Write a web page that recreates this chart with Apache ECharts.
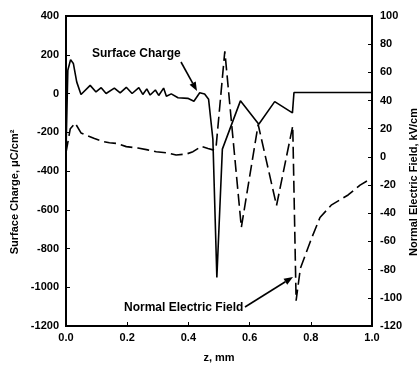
<!DOCTYPE html>
<html>
<head>
<meta charset="utf-8">
<script src="https://cdn.jsdelivr.net/npm/echarts@6/dist/echarts.min.js"></script>
<style>
  html, body { margin: 0; padding: 0; background: #fff; }
  #chart { width: 420px; height: 368px; }
</style>
</head>
<body>
<div id="chart"></div>
<script>
// surface charge (solid), uC/cm2, left axis
const zCharge = [0, 0.006, 0.015, 0.024, 0.035, 0.049, 0.079, 0.098, 0.115, 0.131, 0.158, 0.177, 0.197, 0.216, 0.238, 0.251, 0.264, 0.275, 0.292, 0.303, 0.319, 0.328, 0.344, 0.366, 0.398, 0.418, 0.437, 0.453, 0.466, 0.48, 0.493, 0.511, 0.57, 0.63, 0.682, 0.74, 0.745, 1.0];
const surfaceCharge = [-300, 120, 175, 155, 60, -5, 42, 8, 30, 0, 28, 3, 32, 0, 30, -5, 24, -8, 18, -10, 28, -14, -2, -22, -25, -40, 4, -3, -30, -236, -950, -287, -38, -159, -42, -100, 5, 5];

// normal electric field (dashed), kV/cm, right axis
const zField = [0, 0.014, 0.03, 0.049, 0.065, 0.093, 0.12, 0.142, 0.169, 0.197, 0.235, 0.267, 0.295, 0.333, 0.36, 0.393, 0.415, 0.442, 0.464, 0.48, 0.49, 0.519, 0.573, 0.628, 0.688, 0.741, 0.752, 0.766, 0.802, 0.83, 0.868, 0.922, 0.961, 1.0];
const normalField = [3, 20, 24, 17, 15.5, 13, 11, 10, 9.5, 7.3, 6.3, 5, 3.7, 2.8, 1.4, 2, 3.7, 7.5, 6, 5, 6, 75, -50, 23, -34.5, 22, -102, -79, -58, -43, -34, -27, -20, -15];

const chargeTicks = { min: -1200, max: 400, step: 200 };
const fieldTicks = { min: -120, max: 100, step: 20 };
const zTicks = { min: 0, max: 1, step: 0.2 };

const font = 'Liberation Sans, Arial, sans-serif';
const labelStyle = { color: '#000', fontFamily: font, fontWeight: 'bold', fontSize: 11 };

const myChart = echarts.init(document.getElementById('chart'));

// small arrow helper for the two annotations
const arrow = (x1, y1, x2, y2) => {
  const a = Math.atan2(y2 - y1, x2 - x1);
  const len = 9, w = 3.5;
  const bx = x2 - len * Math.cos(a), by = y2 - len * Math.sin(a);
  return [
    { type: 'line', shape: { x1: x1, y1: y1, x2: bx, y2: by }, style: { stroke: '#000', lineWidth: 1.6 } },
    {
      type: 'polygon',
      shape: { points: [[x2, y2], [bx + w * Math.sin(a), by - w * Math.cos(a)], [bx - w * Math.sin(a), by + w * Math.cos(a)]] },
      style: { fill: '#000' }
    }
  ];
};

const option = {
  backgroundColor: '#fff',
  animation: false,
  grid: { left: 66, right: 48, top: 16, bottom: 40, show: true, borderColor: '#000', borderWidth: 2 },
  xAxis: {
    type: 'value',
    min: zTicks.min, max: zTicks.max, interval: zTicks.step,
    name: 'z, mm', nameLocation: 'middle', nameGap: 26,
    nameTextStyle: labelStyle,
    axisLine: { onZero: false, lineStyle: { color: '#000', width: 2 } },
    axisTick: { inside: true, length: 4, lineStyle: { color: '#000' } },
    axisLabel: Object.assign({ margin: 6, formatter: v => v.toFixed(1) }, labelStyle),
    splitLine: { show: false }
  },
  yAxis: [
    {
      type: 'value',
      min: chargeTicks.min, max: chargeTicks.max, interval: chargeTicks.step,
      axisLine: { show: true, onZero: false, lineStyle: { color: '#000', width: 2 } },
      axisTick: { show: true, inside: true, length: 4, lineStyle: { color: '#000' } },
      axisLabel: Object.assign({ margin: 7, formatter: v => String(v) }, labelStyle),
      splitLine: { show: false }
    },
    {
      type: 'value',
      min: fieldTicks.min, max: fieldTicks.max, interval: fieldTicks.step,
      position: 'right',
      axisLine: { show: true, onZero: false, lineStyle: { color: '#000', width: 2 } },
      axisTick: { show: true, inside: true, length: 4, lineStyle: { color: '#000' } },
      axisLabel: Object.assign({ margin: 8, formatter: v => String(v) }, labelStyle),
      splitLine: { show: false }
    }
  ],
  series: [
    {
      name: 'Surface Charge',
      type: 'line',
      yAxisIndex: 0,
      data: zCharge.map((z, i) => [z, surfaceCharge[i]]),
      showSymbol: false,
      lineStyle: { color: '#000', width: 1.6 }
    },
    {
      name: 'Normal Electric Field',
      type: 'line',
      yAxisIndex: 1,
      data: zField.map((z, i) => [z, normalField[i]]),
      showSymbol: false,
      lineStyle: { color: '#000', width: 1.6, type: [12, 5] }
    }
  ],
  graphic: [
    {
      type: 'text', x: 15, y: 192, rotation: Math.PI / 2,
      style: { text: 'Surface Charge, μC/cm²', font: 'bold 11px ' + font, fill: '#000', align: 'center', verticalAlign: 'middle' }
    },
    {
      type: 'text', x: 414, y: 182, rotation: Math.PI / 2,
      style: { text: 'Normal Electric Field, kV/cm', font: 'bold 11px ' + font, fill: '#000', align: 'center', verticalAlign: 'middle' }
    },
    {
      type: 'text', x: 92, y: 54,
      style: { text: 'Surface Charge', font: 'bold 12px ' + font, fill: '#000', verticalAlign: 'middle' }
    },
    {
      type: 'text', x: 124, y: 308,
      style: { text: 'Normal Electric Field', font: 'bold 12px ' + font, fill: '#000', verticalAlign: 'middle' }
    },
    ...arrow(181, 62, 197, 91),
    ...arrow(245, 307, 293, 277)
  ]
};
myChart.setOption(option);
</script>
</body>
</html>
